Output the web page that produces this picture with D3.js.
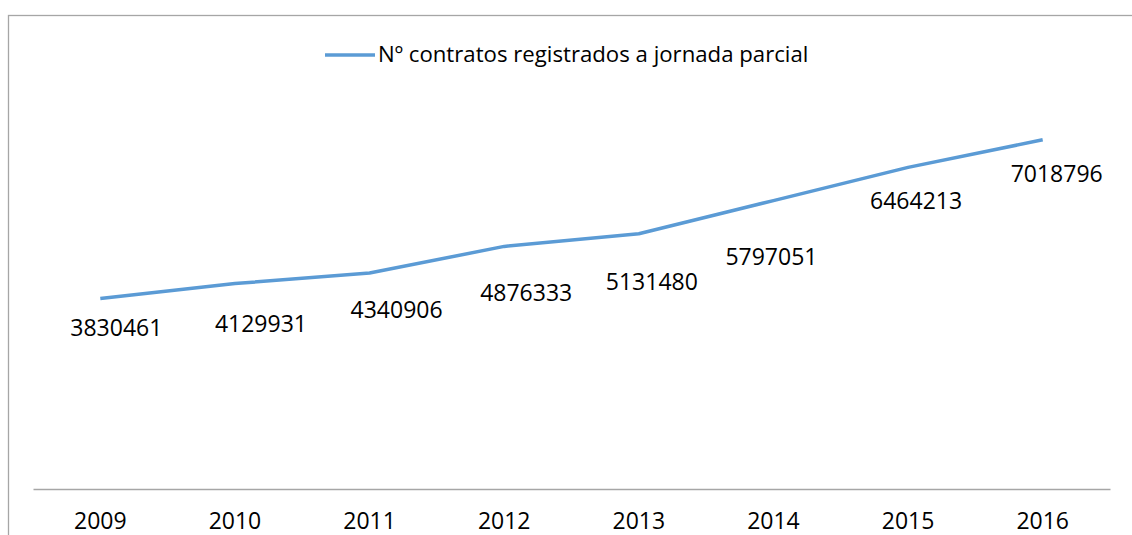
<!DOCTYPE html>
<html>
<head>
<meta charset="utf-8">
<script src="https://cdn.jsdelivr.net/npm/d3@7"></script>
<style>
  html, body { margin: 0; padding: 0; background: #fff; }
  svg { display: block; font-family: "Open Sans", sans-serif; }
</style>
</head>
<body>
<div id="wrapper"></div>
<script>
const years = ["2009", "2010", "2011", "2012", "2013", "2014", "2015", "2016"]
const contratos = [3830461, 4129931, 4340906, 4876333, 5131480, 5797051, 6464213, 7018796]
const seriesName = "Nº contratos registrados a jornada parcial"

// hand-placed label offsets (dx, dy from the point), as in the original
const labelShift = [[16, 38], [26, 48], [27, 45], [22, 55], [13, 56], [-2, 64], [8, 42], [14, 42]]

const width = 1132
const height = 535
const plot = { left: 33, right: 1110, top: 91, bottom: 489 }

const svg = d3.select("#wrapper")
  .append("svg")
    .attr("width", width)
    .attr("height", height)

// chart frame (runs off the right and bottom edges)
svg.append("rect")
  .attr("x", 8.5)
  .attr("y", 15.5)
  .attr("width", 1150)
  .attr("height", 560)
  .attr("fill", "none")
  .attr("stroke", "#a6a6a6")
  .attr("stroke-width", 1.3)

const xScale = d3.scaleBand()
  .domain(years)
  .range([plot.left, plot.right])

const yScale = d3.scaleLinear()
  .domain([0, 8000000])
  .range([plot.bottom, plot.top])

const xAxis = svg.append("g")
  .attr("transform", `translate(0, ${plot.bottom})`)
  .call(d3.axisBottom(xScale).tickSize(0).tickPadding(0).tickSizeOuter(0))

xAxis.select(".domain")
  .attr("stroke", "#a6a6a6")
  .attr("stroke-width", 1.3)

xAxis.selectAll(".tick text")
  .attr("dy", null)
  .attr("y", 39.5)
  .attr("font-family", "Open Sans")
  .attr("font-size", 23)
  .attr("fill", "#000")

const points = years.map((y, i) => ({ year: y, value: contratos[i], shift: labelShift[i] }))
const xMid = d => xScale(d.year) + xScale.bandwidth() / 2

const line = d3.line()
  .x(xMid)
  .y(d => yScale(d.value))

svg.append("path")
  .datum(points)
  .attr("d", line)
  .attr("fill", "none")
  .attr("stroke", "#5b9bd5")
  .attr("stroke-width", 3.5)
  .attr("stroke-linejoin", "round")

svg.append("g")
  .selectAll("text")
  .data(points)
  .join("text")
    .attr("x", d => xMid(d) + d.shift[0])
    .attr("y", d => yScale(d.value) + d.shift[1])
    .attr("text-anchor", "middle")
    .attr("font-size", 23)
    .attr("fill", "#000")
    .text(d => d.value)

// legend
const legend = svg.append("g")
legend.append("line")
  .attr("x1", 325)
  .attr("x2", 375)
  .attr("y1", 55)
  .attr("y2", 55)
  .attr("stroke", "#5b9bd5")
  .attr("stroke-width", 3.5)
legend.append("text")
  .attr("x", 378)
  .attr("y", 62)
  .attr("font-size", 22.2)
  .attr("fill", "#000")
  .text(seriesName)
</script>
</body>
</html>
